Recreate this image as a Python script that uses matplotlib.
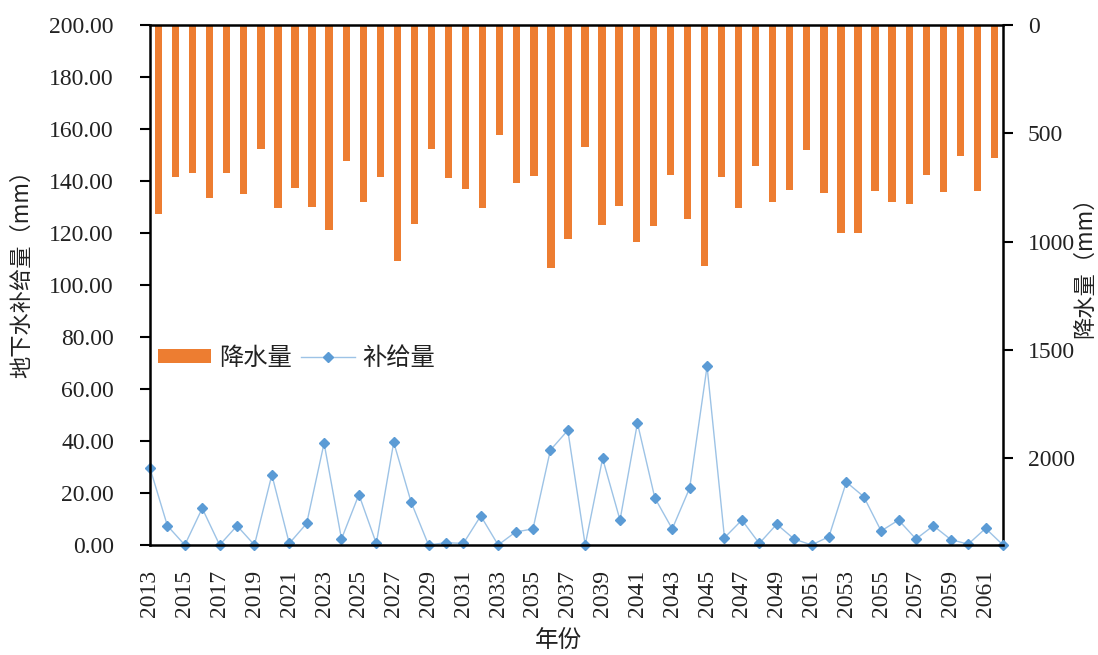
import matplotlib
matplotlib.use("Agg")

import numpy as np
import matplotlib.pyplot as plt
from matplotlib.ticker import FormatStrFormatter

# 年份与数据
years = list(range(2013, 2063))
recharge = [29.6, 7.4, 0.0, 14.1, 0.0, 7.4, 0.0, 27.0, 0.6, 8.3,
            39.2, 2.3, 19.4, 0.6, 39.5, 16.5, 0.0, 0.9, 0.6, 11.2,
            0.0, 5.0, 6.2, 36.5, 44.1, 0.0, 33.3, 9.6, 46.9, 18.1,
            6.2, 21.9, 68.7, 2.8, 9.6, 0.6, 8.0, 2.3, 0.0, 3.2,
            24.2, 18.6, 5.4, 9.6, 2.3, 7.4, 2.1, 0.3, 6.4, 0.0]
precip = [871, 700, 685, 797, 685, 782, 571, 846, 754, 838,
          945, 629, 818, 700, 1089, 920, 571, 705, 757, 843,
          508, 728, 698, 1123, 989, 563, 923, 837, 1000, 928,
          691, 895, 1112, 700, 843, 649, 817, 761, 577, 775,
          961, 958, 766, 815, 828, 691, 769, 603, 765, 614]

num_font = ['Liberation Serif', 'Noto Sans CJK SC']
cjk_font = ['Noto Sans CJK SC', 'DejaVu Sans']
fs_num = 17
fs_cjk = 16
txt_color = '#222222'

fig = plt.figure(figsize=(10.98, 6.55), dpi=100)
pos = [150 / 1098, 110 / 655, 853 / 1098, 520 / 655]

# 降水量柱（右轴，倒置）
axb = fig.add_axes(pos)
idx = np.arange(len(years))
bars = axb.bar(idx, precip, width=0.43, color='#ED7D31', label='降水量')
axb.set_xlim(-0.5, len(years) - 0.5)
axb.set_ylim(2400, 0)
axb.set_yticks([0, 500, 1000, 1500, 2000])
axb.yaxis.tick_right()
axb.xaxis.set_visible(False)
for s in ['left', 'bottom']:
    axb.spines[s].set_visible(False)
axb.spines['right'].set_linewidth(1.8)
axb.spines['top'].set_linewidth(1.8)
axb.tick_params(axis='y', direction='out', length=7, width=1.5, pad=11,
                labelsize=fs_num, labelcolor=txt_color)
for lb in axb.get_yticklabels():
    lb.set_family(num_font)

# 补给量折线（左轴）
ax = fig.add_axes(pos)
ax.patch.set_visible(False)
line, = ax.plot(idx, recharge, color='#9DC3E6', lw=1.0, marker='D',
                markersize=5.5, markerfacecolor='#5B9BD5',
                markeredgecolor='#5B9BD5', label='补给量', clip_on=False)
ax.set_xlim(0, len(years) - 1)
ax.set_ylim(0, 200)
ax.set_yticks(np.arange(0, 201, 20))
ax.yaxis.set_major_formatter(FormatStrFormatter('%.2f'))
ax.set_xticks(idx[::2])
ax.set_xticklabels([str(y) for y in years[::2]], rotation=90)
for s in ['top', 'right']:
    ax.spines[s].set_visible(False)
ax.spines['left'].set_linewidth(1.8)
ax.spines['bottom'].set_linewidth(1.8)
ax.tick_params(axis='y', direction='out', length=7, width=1.5, pad=19,
               labelsize=fs_num, labelcolor=txt_color)
ax.tick_params(axis='x', length=0, pad=18, labelsize=fs_num, labelcolor=txt_color)
for lb in ax.get_yticklabels() + ax.get_xticklabels():
    lb.set_family(num_font)

# 轴标题
fig.text(22 / 1098, 1 - 268 / 655, '地下水补给量（mm）', rotation=90,
         ha='center', va='center', fontsize=fs_cjk, family=cjk_font, color=txt_color)
fig.text(1085 / 1098, 1 - 262 / 655, '降水量（mm）', rotation=90,
         ha='center', va='center', fontsize=fs_cjk, family=cjk_font, color=txt_color)
fig.text(558 / 1098, 1 - 640 / 655, '年份', ha='center', va='center',
         fontsize=17, family=cjk_font, color=txt_color)

leg = ax.legend([bars, line], ['降水量', '补给量'], ncol=2, frameon=False,
                loc='center left', bbox_to_anchor=(158 / 1098, 1 - 358 / 655),
                bbox_transform=fig.transFigure, borderpad=0, borderaxespad=0,
                handlelength=2.2, handleheight=0.5, handletextpad=0.3,
                columnspacing=0.4, prop={'family': cjk_font, 'size': 17.5})
for t in leg.get_texts():
    t.set_color(txt_color)

fig.savefig('out.png', dpi=100)
